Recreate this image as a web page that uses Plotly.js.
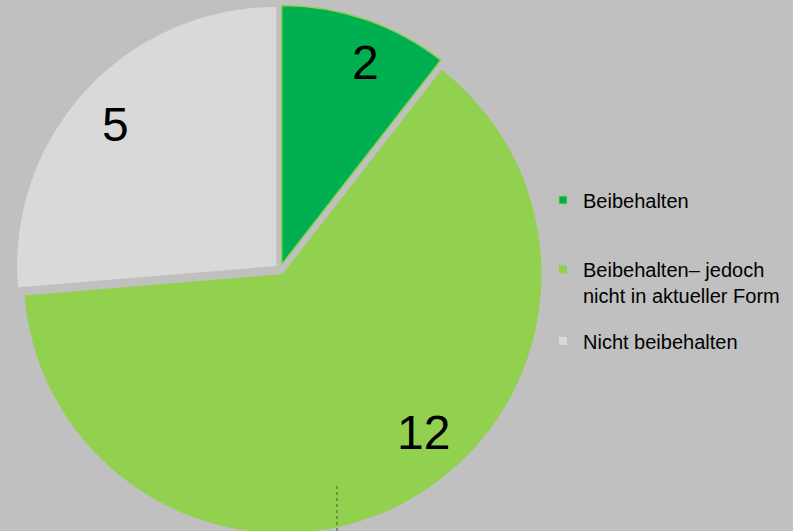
<!DOCTYPE html>
<html>
<head>
<meta charset="utf-8">
<script src="https://cdn.plot.ly/plotly-3.0.1.min.js"></script>
<style>html,body{margin:0;padding:0;overflow:hidden;background:#c0c0c0;}#chart{width:793px;height:540px;}</style>
</head>
<body>
<div id="chart"></div>
<script>
const labels = ['Beibehalten', 'Beibehalten\u2013 jedoch<br>nicht in aktueller Form', 'Nicht beibehalten'];
const values = [2, 12, 5];
const colors = ['#00b050', '#92d050', '#d9d9d9'];
const outline = ['#92d050', '#92d050', '#d9d9d9'];
const outlineWidth = [1.5, 0, 0];
// value label anchor positions (pixels in the visible 793x531 figure)
const labelPx = [[365, 62], [423, 432], [116, 124]];

const FONT = 'Liberation Sans, Arial, sans-serif';
const W = 793, H = 540;
const px2x = p => p / W;
const px2y = p => 1 - p / H;

const pie = {
  type: 'pie',
  labels: labels,
  values: values,
  sort: false,
  direction: 'clockwise',
  rotation: 0,
  pull: [0.02, 0.02, 0.02],
  marker: {colors: colors, line: {color: outline, width: outlineWidth}},
  textinfo: 'none',
  domain: {x: [0.0199, 0.6863], y: [0.0117, 0.9902]},
  showlegend: false,
  hoverinfo: 'label+value'
};

const legendIds = ['legend', 'legend2', 'legend3'];
const legendTraces = labels.map((lab, i) => ({
  type: 'scatter',
  mode: 'markers',
  x: [null], y: [null],
  name: lab,
  legend: legendIds[i],
  marker: {symbol: 'square', size: 8, color: colors[i], line: {color: outline[i], width: i === 0 ? 1 : 0}},
  hoverinfo: 'skip'
}));

const legendPxY = [200, 282.5, 341];
const layout = {
  width: W, height: H,
  margin: {l: 0, r: 0, t: 0, b: 0},
  paper_bgcolor: '#c0c0c0',
  plot_bgcolor: '#c0c0c0',
  xaxis: {visible: false},
  yaxis: {visible: false},
  hovermode: false,
  annotations: values.map((v, i) => ({
    xref: 'paper', yref: 'paper',
    x: px2x(labelPx[i][0]), y: px2y(labelPx[i][1]),
    xanchor: 'center', yanchor: 'middle',
    text: String(v), showarrow: false,
    font: {family: FONT, size: 48, color: '#000000'}
  })),
  shapes: [{type: 'line', xref: 'paper', yref: 'paper', x0: px2x(337), x1: px2x(337), y0: px2y(531), y1: px2y(483),
            line: {color: '#3f5f2a', width: 1, dash: 'dot'}}]
};
legendIds.forEach((id, i) => {
  layout[id] = {
    x: px2x(543), xanchor: 'left', y: px2y(legendPxY[i]), yanchor: 'middle',
    bgcolor: 'rgba(0,0,0,0)', borderwidth: 0,
    font: {family: FONT, size: 20, color: '#000000'},
    valign: 'top'
  };
});

Plotly.newPlot('chart', [pie].concat(legendTraces), layout, {displayModeBar: false, staticPlot: true});
</script>
</body>
</html>
